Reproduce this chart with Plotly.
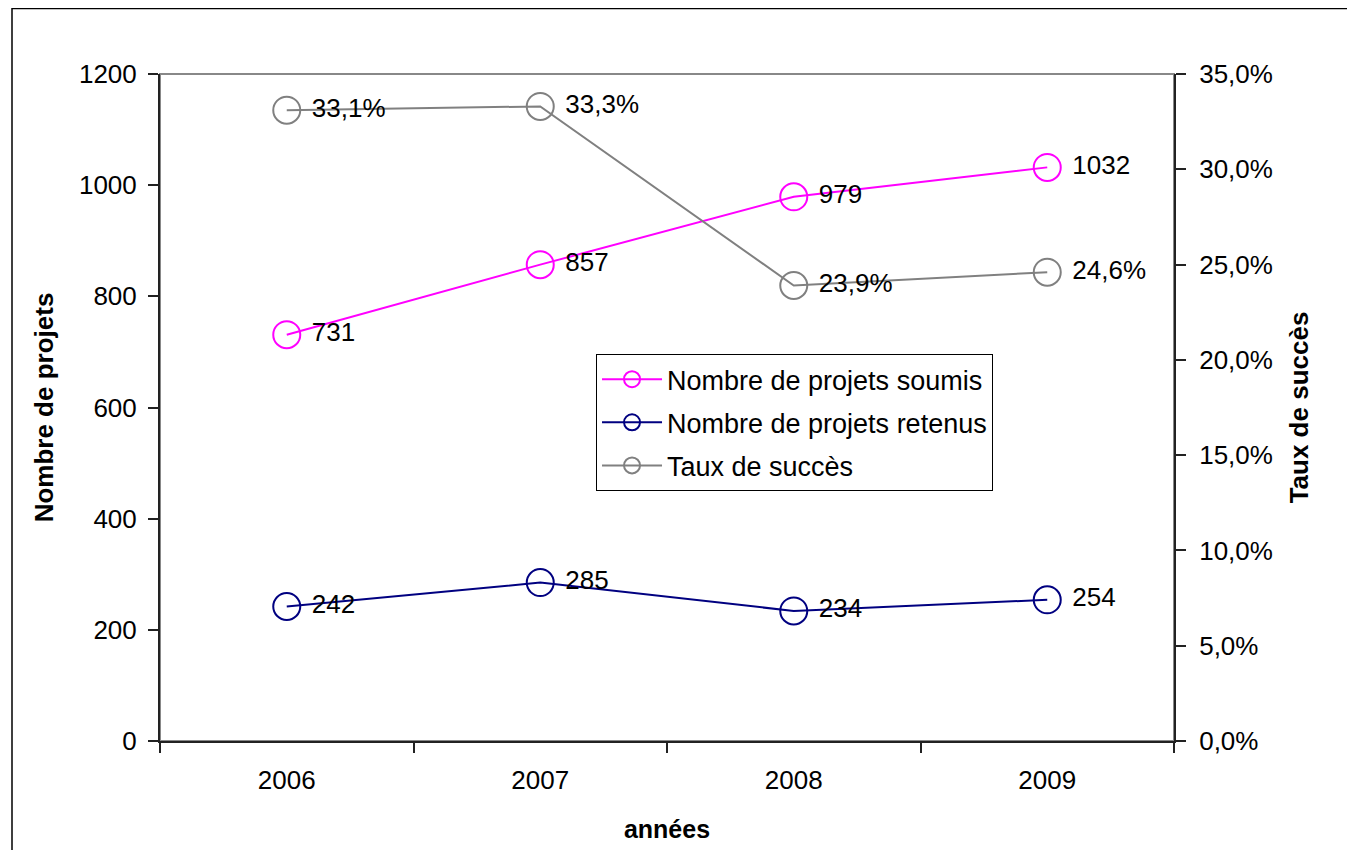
import plotly.graph_objects as go

years = ["2006", "2007", "2008", "2009"]
soumis = [731, 857, 979, 1032]
retenus = [242, 285, 234, 254]
taux = [0.331, 0.333, 0.239, 0.246]

FONT = "Liberation Sans, Arial, sans-serif"

fig = go.Figure()

def add(y, name, color, text, yaxis="y"):
    fig.add_trace(go.Scatter(
        x=years, y=y, name=name, mode="lines+markers+text",
        line=dict(color=color, width=2),
        marker=dict(symbol="circle-open", size=27, color=color, line=dict(width=2, color=color)),
        text=text, textposition="middle right",
        textfont=dict(family=FONT, size=26, color="black"),
        yaxis=yaxis, cliponaxis=False, legendgroup=name,
    ))

add(soumis, "Nombre de projets soumis", "#FF00FF", [" " + str(v) for v in soumis])
add(retenus, "Nombre de projets retenus", "#000080", [" " + str(v) for v in retenus])
add(taux, "Taux de succès", "#808080", [" " + f"{v*100:.1f}%".replace(".", ",") for v in taux], yaxis="y2")

axis_common = dict(
    showline=True, linecolor="#222", linewidth=2, ticks="outside", ticklen=10,
    tickcolor="#222", tickwidth=1.5, showgrid=False, zeroline=False,
    tickfont=dict(family=FONT, size=26, color="black"),
)

L, T = 152, 66
W, H = 1014, 667

fig.update_layout(
    width=1355, height=850,
    margin=dict(l=L, r=1355 - L - W, t=T, b=850 - T - H),
    paper_bgcolor="white", plot_bgcolor="white",
    separators=", ",
    font=dict(family=FONT, size=26, color="black"),
    xaxis=dict(
        **axis_common, type="category", range=[-0.5, 3.5], tickson="boundaries",
        ticklabelstandoff=15,
        title=dict(text="<b>années</b>", font=dict(family=FONT, size=25), standoff=26),
    ),
    yaxis=dict(
        **axis_common, range=[0, 1200], dtick=200, ticklabelstandoff=6,
        title=dict(text="<b>Nombre de projets</b>", font=dict(family=FONT, size=26), standoff=18),
    ),
    yaxis2=dict(
        **axis_common, range=[0, 0.35], dtick=0.05, tickformat=".1%",
        overlaying="y", side="right", anchor="x", ticklabelstandoff=8,
        title=dict(text="<b>Taux de succès</b>", font=dict(family=FONT, size=26), standoff=18),
    ),
    legend=dict(
        x=0.43, y=0.58, xanchor="left", yanchor="top",
        bordercolor="black", borderwidth=1, bgcolor="white",
        font=dict(family=FONT, size=27, color="black"),
        itemwidth=60, tracegroupgap=5,
    ),
    showlegend=True,
    shapes=[
        dict(type="rect", xref="paper", yref="paper", x0=0, x1=1, y0=0, y1=1,
             line=dict(color="#888", width=2), layer="below"),
        dict(type="rect", xref="paper", yref="paper",
             x0=(4 - L) / W, x1=(1370 - L) / W,
             y0=(T + H - 870) / H, y1=(T + H - 0.5) / H,
             line=dict(color="black", width=1.5), layer="below"),
    ],
)

fig.write_html("out.html")
